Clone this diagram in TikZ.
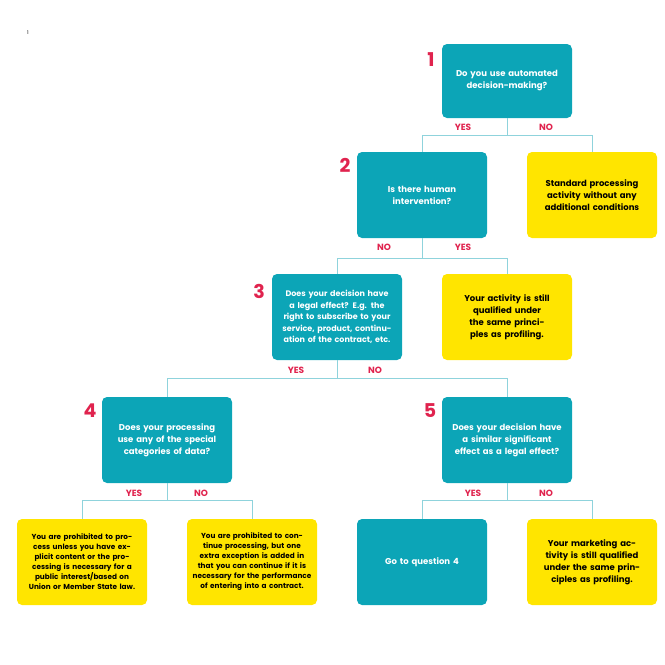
\documentclass[tikz,border=0pt]{standalone}
\usepackage{fontspec}
\setmainfont{Poppins}
\definecolor{qteal}{HTML}{0CA5B7}
\definecolor{ayellow}{HTML}{FFE500}
\definecolor{numred}{HTML}{E0234E}
\definecolor{linkteal}{HTML}{8FD3DC}
\tikzset{
  qbox/.style={fill=qteal,rounded corners=5pt,minimum width=130pt,minimum height=86pt,
    text width=112pt,align=center,text=white,font=\bfseries\fontsize{8.5}{12}\selectfont},
  abox/.style={qbox,fill=ayellow,text=black},
  ansbox/.style={abox,font=\bfseries\fontsize{7.3}{10}\selectfont,text width=120pt},
  qnum/.style={text=numred,font=\bfseries\fontsize{19}{19}\selectfont},
  yn/.style={text=numred,font=\bfseries\fontsize{9}{9}\selectfont},
  link/.style={draw=linkteal,line width=0.8pt}
}
\begin{document}
\begin{tikzpicture}[x=1pt,y=-1pt]
\useasboundingbox (0,0) rectangle (665,665);
\node[font=\fontsize{5}{5}\selectfont] (pg) at (28,33) {1};
% questions
\node[qbox,minimum height=74pt] (q1) at (507,81) {Do you use automated decision-making?};
\node[qbox] (q2) at (422,195) {Is there human intervention?};
\node[qbox,font=\bfseries\fontsize{8}{11.5}\selectfont] (q3) at (337,317) {Does your decision have a legal effect? E.g. the right to subscribe to your service, product, continuation of the contract, etc.};
\node[qbox] (q4) at (167,440) {Does your processing use any of the special categories of data?};
\node[qbox] (q5) at (507,440) {Does your decision have a similar significant effect as a legal effect?};
% answers
\node[abox] (std) at (592,195) {Standard processing activity without any additional conditions};
\node[abox] (still) at (507,317) {Your activity is still qualified under the same principles as profiling.};
\node[ansbox] (proh) at (82,562) {You are prohibited to process unless you have explicit content or the processing is necessary for a public interest/based on Union or Member State law.};
\node[ansbox] (cont) at (252,562) {You are prohibited to continue processing, but one extra exception is added in that you can continue if it is necessary for the performance of entering into a contract.};
\node[qbox] (goq4) at (422,562) {Go to question 4};
\node[abox] (mkt) at (592,562) {Your marketing activity is still qualified under the same principles as profiling.};
% numbers
\node[qnum] (n1) at (431,60) {1};
\node[qnum] (n2) at (345,165) {2};
\node[qnum] (n3) at (259,291) {3};
\node[qnum] (n4) at (90,411) {4};
\node[qnum] (n5) at (430,411) {5};
% connectors
\draw[link] (q1.south) -- ++(0,17) coordinate (j1) -| (q2.north);
\draw[link] (j1) -| (std.north);
\draw[link] (q2.south) -- ++(0,20) coordinate (j2) -| (q3.north);
\draw[link] (j2) -| (still.north);
\draw[link] (q3.south) -- ++(0,18) coordinate (j3) -| (q4.north);
\draw[link] (j3) -| (q5.north);
\draw[link] (q4.south) -- ++(0,17) coordinate (j4) -| (proh.north);
\draw[link] (j4) -| (cont.north);
\draw[link] (q5.south) -- ++(0,17) coordinate (j5) -| (goq4.north);
\draw[link] (j5) -| (mkt.north);
% yes/no labels
\node[yn] (y1) at (463,127) {YES};
\node[yn] (x1) at (546,127) {NO};
\node[yn] (x2) at (384,247) {NO};
\node[yn] (y2) at (463,247) {YES};
\node[yn] (y3) at (296,370) {YES};
\node[yn] (x3) at (375,370) {NO};
\node[yn] (y4) at (134,493) {YES};
\node[yn] (x4) at (201,493) {NO};
\node[yn] (y5) at (473,493) {YES};
\node[yn] (x5) at (546,493) {NO};
\end{tikzpicture}
\end{document}
